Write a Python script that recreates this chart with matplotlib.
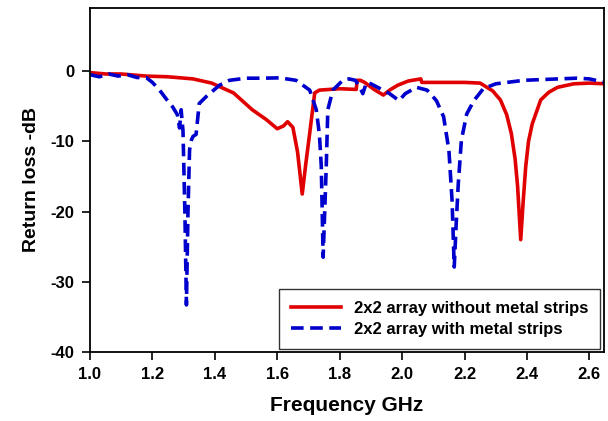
import matplotlib.pyplot as plt

plt.rcParams['font.family'] = ['Liberation Sans', 'DejaVu Sans']
plt.rcParams['font.weight'] = 'bold'
plt.rcParams['axes.unicode_minus'] = False

# 2x2 array without metal strips
freq_red = [1.00, 1.05, 1.10, 1.18, 1.25, 1.33, 1.39, 1.46, 1.52, 1.565, 1.60, 1.62, 1.633,
            1.65, 1.665, 1.68, 1.692, 1.704, 1.72, 1.735, 1.80, 1.853, 1.856, 1.866, 1.88,
            1.91, 1.94, 1.96, 1.986, 2.02, 2.06, 2.063, 2.10, 2.20, 2.25, 2.29, 2.315, 2.335,
            2.35, 2.362, 2.37, 2.38, 2.388, 2.396, 2.405, 2.417, 2.444, 2.47, 2.498, 2.55,
            2.60, 2.65]
rl_red = [-0.2, -0.4, -0.4, -0.7, -0.8, -1.1, -1.7, -3.1, -5.5, -6.9, -8.2, -7.8, -7.2,
          -8.0, -11.5, -17.5, -13.0, -8.8, -3.1, -2.7, -2.5, -2.6, -1.3, -1.3, -1.6,
          -2.6, -3.4, -2.7, -2.0, -1.4, -1.1, -1.6, -1.6, -1.6, -1.7, -2.8, -4.1, -6.2,
          -8.9, -12.5, -16.4, -24.0, -18.5, -13.6, -10.0, -7.5, -4.1, -3.0, -2.3, -1.8,
          -1.7, -1.8]

# 2x2 array with metal strips
freq_blue = [1.00, 1.03, 1.06, 1.09, 1.12, 1.15, 1.18, 1.20, 1.223, 1.245, 1.265, 1.28,
             1.287, 1.292, 1.298, 1.304, 1.309, 1.314, 1.319, 1.325, 1.33, 1.34, 1.35,
             1.373, 1.415, 1.447, 1.50, 1.55, 1.607, 1.66, 1.704, 1.725, 1.735, 1.741,
             1.747, 1.752, 1.757, 1.762, 1.778, 1.81, 1.83, 1.85, 1.864, 1.874, 1.886,
             1.90, 1.93, 1.96, 1.99, 2.01, 2.046, 2.08, 2.11, 2.133, 2.15, 2.16, 2.167,
             2.173, 2.18, 2.19, 2.207, 2.23, 2.26, 2.30, 2.39, 2.50, 2.56, 2.60, 2.65]
rl_blue = [-0.5, -0.8, -0.4, -0.7, -0.5, -0.9, -0.9, -1.6, -2.7, -4.0, -5.1, -6.2,
           -8.1, -5.5, -8.5, -20.0, -33.3, -20.0, -11.2, -9.8, -9.3, -9.0, -4.6,
           -3.6, -2.0, -1.3, -1.0, -1.0, -0.95, -1.3, -2.7, -5.5, -9.0, -13.5,
           -26.5, -20.0, -13.5, -5.5, -2.7, -1.3, -1.1, -1.3, -2.2, -3.2, -1.6,
           -1.8, -2.5, -3.2, -4.2, -3.2, -2.3, -2.7, -4.2, -6.5, -11.3, -18.4, -27.9,
           -22.0, -16.0, -9.8, -6.1, -4.2, -2.5, -1.8, -1.3, -1.1, -1.0, -1.1, -1.6]

fig = plt.figure(figsize=(6.08, 4.21), dpi=100)
ax = fig.add_axes([0.148, 0.164, 0.845, 0.817])

ax.plot(freq_red, rl_red, color='#e00000', lw=2.6, label='2x2 array without metal strips')
ax.plot(freq_blue, rl_blue, color='#0000cc', lw=2.6, ls=(0, (3.5, 1.8)),
        label='2x2 array with metal strips')

ax.set_xlim(1.0, 2.646)
ax.set_ylim(-40, 9)
ax.set_xticks([1.0, 1.2, 1.4, 1.6, 1.8, 2.0, 2.2, 2.4, 2.6])
ax.set_yticks([0, -10, -20, -30, -40])
ax.tick_params(direction='out', length=6, width=1.2, labelsize=12, pad=5)
for s in ax.spines.values():
    s.set_linewidth(1.3)

ax.set_xlabel('Frequency GHz', fontsize=15, fontweight='bold', labelpad=10)
ax.set_ylabel('Return loss -dB', fontsize=14, fontweight='bold', labelpad=8)

leg = ax.legend(loc='lower right', fontsize=12, frameon=True, fancybox=False,
                edgecolor='black', borderaxespad=0.2, handlelength=3.0,
                borderpad=0.7, labelspacing=0.35)
leg.get_frame().set_linewidth(1.0)

plt.savefig('out.png', dpi=100)
